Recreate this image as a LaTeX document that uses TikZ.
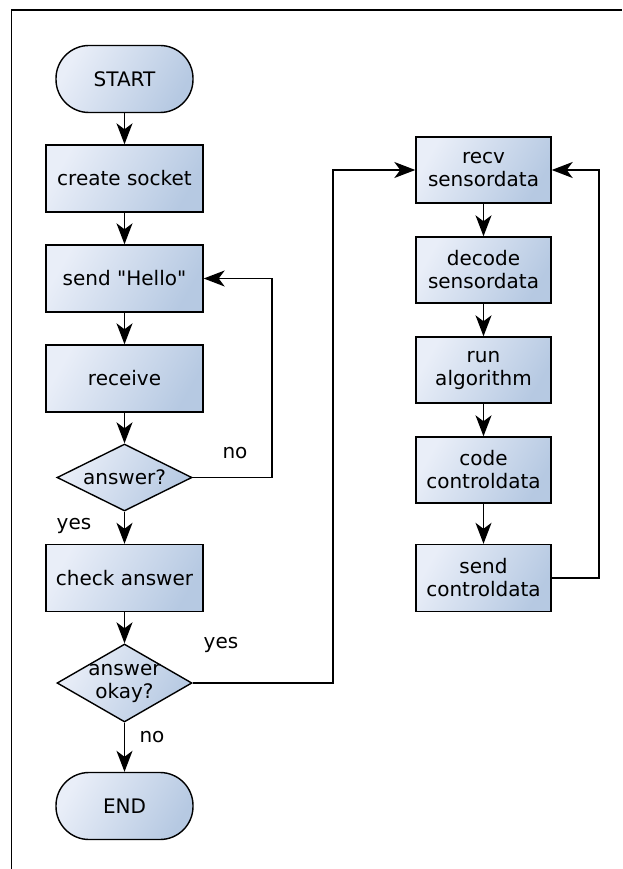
\documentclass[tikz,border=0pt]{standalone}
\usepackage{fontspec}
\setmainfont{DejaVu Sans}[Ligatures=TeXOff]
\usetikzlibrary{shapes.geometric,arrows.meta}
\definecolor{fillA}{HTML}{E9EEF8}
\definecolor{fillB}{HTML}{B6C9E2}
\begin{document}
\begin{tikzpicture}[x=1pt,y=-1pt,
  font=\fontsize{20}{23}\selectfont,
  base/.style={draw=black, line width=1.4pt, top color=fillA, bottom color=fillB, shading angle=60, inner sep=0pt, align=center},
  proc/.style={base, rectangle, minimum width=157pt, minimum height=67pt},
  rproc/.style={base, rectangle, minimum width=135pt, minimum height=66pt},
  term/.style={base, rectangle, rounded corners=33pt, minimum width=137pt, minimum height=67pt},
  decision/.style={base, diamond, minimum width=135pt, minimum height=67pt},
  arr/.style={draw=black, line width=1.4pt, -{Stealth[length=21pt,width=16pt,inset=6pt]}},
  lbl/.style={inner sep=0pt}
]
\useasboundingbox (0,0) rectangle (622,869);
\draw[line width=1.1pt] (11.5,869) -- (11.5,10) -- (622,10);

% left column
\node[term] (start) at (124.5,79) {START};
\node[proc] (cs) at (124.5,178.5) {create socket};
\node[proc] (hello) at (124.5,278.5) {send "Hello"};
\node[proc] (rcv) at (124.5,378.5) {receive};
\node[decision, label={[lbl]center:answer?}] (ans) at (124.5,477.5) {};
\node[proc] (chk) at (124.5,578) {check answer};
\node[decision, minimum height=78pt, label={[lbl,align=center]center:answer\\okay?}] (ok) at (124.5,683) {};
\node[term] (end) at (124.5,806) {END};

% right column
\node[rproc] (rs) at (483.5,170) {recv\\sensordata};
\node[rproc] (ds) at (483.5,270) {decode\\sensordata};
\node[rproc] (ra) at (483.5,370) {run\\algorithm};
\node[rproc] (cc) at (483.5,470) {code\\controldata};
\node[rproc, minimum height=67pt] (sc) at (483.5,578) {send\\controldata};

% bend coordinates
\coordinate (xa) at (272,0);
\coordinate (xb) at (333,0);
\coordinate (xc) at (599,0);

% connectors
\draw[arr] (start) -- (cs);
\draw[arr] (cs) -- (hello);
\draw[arr] (hello) -- (rcv);
\draw[arr] (rcv) -- (ans);
\draw[arr] (ans) -- (chk);
\draw[arr] (chk) -- (ok);
\draw[arr] (ok) -- (end);
\draw[arr] (ans.east) -- (ans.east -| xa) |- (hello.east);
\draw[arr] (ok.east) -- (ok.east -| xb) |- (rs.west);
\draw[arr] (rs) -- (ds);
\draw[arr] (ds) -- (ra);
\draw[arr] (ra) -- (cc);
\draw[arr] (cc) -- (sc);
\draw[arr] (sc.east) -- (sc.east -| xc) |- (rs.east);

% labels
\node[lbl] (lno1) at (235,453) {no};
\node[lbl] (lyes1) at (74,526) {yes};
\node[lbl] (lyes2) at (221,645) {yes};
\node[lbl] (lno2) at (152,737) {no};
\end{tikzpicture}
\end{document}
